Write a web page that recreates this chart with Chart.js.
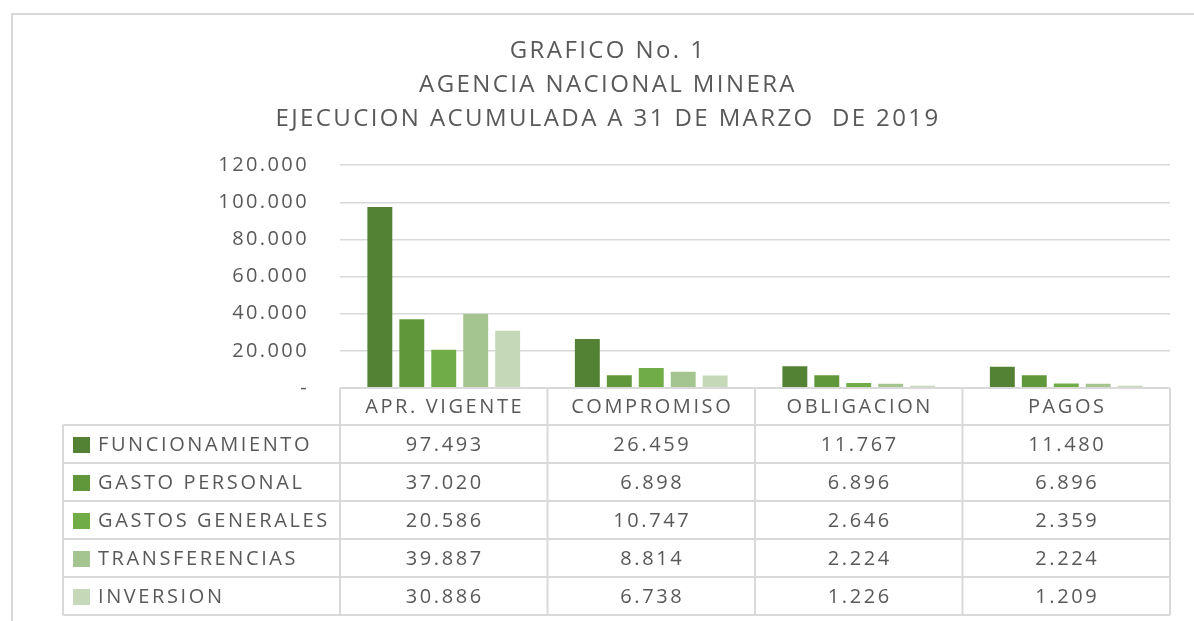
<!DOCTYPE html>
<html>
<head>
<meta charset="utf-8">
<title>Grafico No. 1</title>
<script src="https://cdn.jsdelivr.net/npm/chart.js@4"></script>
<style>
    html, body { margin: 0; padding: 0; background: #fff; }
    #wrap { width: 1194px; height: 621px; }
</style>
</head>
<body>
<div id="wrap"><canvas id="chart" width="1194" height="621"></canvas></div>
<script>
// Data
const categories = ['APR. VIGENTE', 'COMPROMISO', 'OBLIGACION', 'PAGOS'];
const seriesNames = ['FUNCIONAMIENTO', 'GASTO PERSONAL', 'GASTOS GENERALES', 'TRANSFERENCIAS', 'INVERSION'];
const funcionamiento = [97493, 26459, 11767, 11480];
const gastoPersonal = [37020, 6898, 6896, 6896];
const gastosGenerales = [20586, 10747, 2646, 2359];
const transferencias = [39887, 8814, 2224, 2224];
const inversion = [30886, 6738, 1226, 1209];
const yTicks = [0, 20000, 40000, 60000, 80000, 100000, 120000];
const titleLines = ['GRAFICO No. 1', 'AGENCIA NACIONAL MINERA', 'EJECUCION ACUMULADA A 31 DE MARZO  DE 2019'];

const colors = ['#548235', '#61973b', '#70ad47', '#a4c58f', '#c5d9b9'];
const textColor = '#595959';
const lineColor = '#d9d9d9';
const fontFamily = '"Open Sans", "DejaVu Sans", sans-serif';

// format like 97.493
function fmt(v) {
    if (v === 0) return '-';
    return v.toString().replace(/\B(?=(\d{3})+(?!\d))/g, '.');
}

const allSeries = [funcionamiento, gastoPersonal, gastosGenerales, transferencias, inversion];

// Outer frame of the chart object, plus the wide lettering of the original
const framePlugin = {
    id: 'frame',
    beforeDraw(chart) {
        const ctx = chart.ctx;
        ctx.letterSpacing = '2.4px';
        ctx.save();
        ctx.strokeStyle = lineColor;
        ctx.lineWidth = 2;
        ctx.strokeRect(12, 14, 1400, 800);
        ctx.restore();
    }
};

// Excel style data table under the plot, columns follow the x scale
const dataTablePlugin = {
    id: 'dataTable',
    afterDraw(chart) {
        const ctx = chart.ctx;
        const x = chart.scales.x;
        const area = chart.chartArea;
        const colW = (area.right - area.left) / categories.length;
        const headerTop = area.bottom;
        const headerH = 37;
        const rowH = 38;
        const tableLeft = 63;
        const rowsTop = headerTop + headerH;
        const tableBottom = rowsTop + rowH * seriesNames.length;

        ctx.save();
        ctx.strokeStyle = lineColor;
        ctx.lineWidth = 2;
        ctx.beginPath();
        // header top
        ctx.moveTo(area.left, headerTop);
        ctx.lineTo(area.right, headerTop);
        // row lines
        for (let r = 0; r <= seriesNames.length; r++) {
            const y = rowsTop + r * rowH;
            ctx.moveTo(tableLeft, y);
            ctx.lineTo(area.right, y);
        }
        // verticals
        ctx.moveTo(tableLeft, rowsTop);
        ctx.lineTo(tableLeft, tableBottom);
        for (let c = 0; c <= categories.length; c++) {
            const xx = area.left + c * colW;
            ctx.moveTo(xx, headerTop);
            ctx.lineTo(xx, tableBottom);
        }
        ctx.stroke();

        ctx.font = '20px ' + fontFamily;
        ctx.letterSpacing = '2.6px';
        ctx.fillStyle = textColor;
        ctx.textBaseline = 'middle';
        ctx.textAlign = 'center';
        categories.forEach((cat, i) => {
            ctx.fillText(cat, x.getPixelForValue(i) + 1, headerTop + headerH / 2 + 1);
        });

        seriesNames.forEach((name, r) => {
            const cy = rowsTop + r * rowH + rowH / 2 + 1;
            ctx.fillStyle = colors[r];
            ctx.fillRect(73, cy - 8, 17, 16);
            ctx.fillStyle = textColor;
            ctx.textAlign = 'left';
            ctx.fillText(name, 98, cy);
            ctx.textAlign = 'center';
            allSeries[r].forEach((v, i) => {
                ctx.fillText(fmt(v), x.getPixelForValue(i) + 1, cy);
            });
        });
        ctx.restore();
    }
};

const ctx = document.getElementById('chart').getContext('2d');
new Chart(ctx, {
    type: 'bar',
    data: {
        labels: categories,
        datasets: seriesNames.map((name, i) => ({
            label: name,
            data: allSeries[i],
            backgroundColor: colors[i],
            borderWidth: 0,
            categoryPercentage: 0.77,
            barPercentage: 0.78
        }))
    },
    options: {
        responsive: false,
        animation: false,
        layout: {
            padding: { top: 14, right: 24, bottom: 233, left: 46 }
        },
        plugins: {
            legend: { display: false },
            tooltip: { enabled: false },
            title: {
                display: true,
                text: titleLines,
                color: textColor,
                font: { family: fontFamily, size: 24, weight: 'normal', lineHeight: 1.42 },
                padding: { top: 20, bottom: 29 }
            }
        },
        scales: {
            x: {
                display: false,
                offset: true
            },
            y: {
                min: 0,
                max: 120000,
                afterBuildTicks(scale) {
                    scale.ticks = yTicks.map(v => ({ value: v }));
                },
                afterFit(scale) {
                    scale.width = 294;
                },
                border: { display: false },
                grid: { color: lineColor, lineWidth: 1.5, drawTicks: false },
                ticks: {
                    padding: 31,
                    color: textColor,
                    font: { family: fontFamily, size: 20 },
                    callback: v => fmt(v)
                }
            }
        }
    },
    plugins: [framePlugin, dataTablePlugin]
});
</script>
</body>
</html>
